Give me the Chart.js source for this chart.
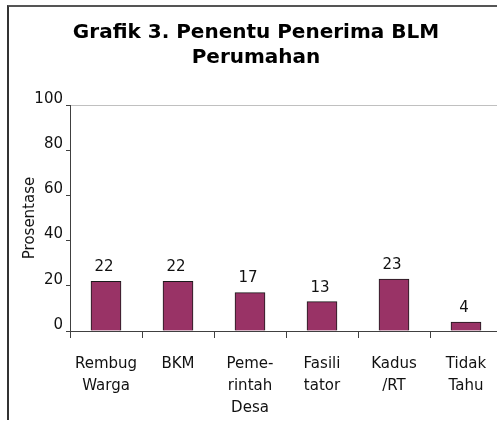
<!DOCTYPE html>
<html>
<head>
<meta charset="utf-8">
<script src="https://cdn.jsdelivr.net/npm/chart.js@4/dist/chart.umd.min.js"></script>
<style>
  html, body { margin: 0; padding: 0; overflow: hidden; background: #fff; width: 497px; height: 423px; }
  #wrap { position: relative; width: 497px; height: 423px; overflow: hidden; }
  #frame { position: absolute; left: 7px; top: 5px; width: 500px; height: 415px;
           border-top: 2px solid #555; border-left: 2px solid #333; box-sizing: border-box; }
  #c { position: absolute; left: 0; top: 0; }
</style>
</head>
<body>
<div id="wrap">
  <div id="frame"></div>
  <canvas id="c" width="504" height="423"></canvas>
</div>
<script>
const titleLines = ["Grafik 3. Penentu Penerima BLM", "Perumahan"];
const yAxisTitle = "Prosentase";
const categories = [
  ["Rembug", "Warga"],
  ["BKM"],
  ["Peme-", "rintah", "Desa"],
  ["Fasili", "tator"],
  ["Kadus", "/RT"],
  ["Tidak", "Tahu"]
];
const values = [22, 22, 17, 13, 23, 4];
const yMin = 0;
const yMax = 100;
const yStep = 20;

const FONT = "'DejaVu Sans', Verdana, sans-serif";

const valueLabels = {
  id: 'valueLabels',
  afterDatasetsDraw(chart) {
    const ctx = chart.ctx;
    const meta = chart.getDatasetMeta(0);
    ctx.save();
    ctx.font = "15px " + FONT;
    ctx.fillStyle = "#111";
    ctx.textAlign = "center";
    ctx.textBaseline = "middle";
    meta.data.forEach((el, i) => {
      ctx.fillText(String(values[i]), el.x - 2, el.y - 14);
    });
    ctx.restore();
  }
};

new Chart(document.getElementById('c'), {
  type: 'bar',
  data: {
    labels: categories,
    datasets: [{
      data: values,
      backgroundColor: '#993366',
      borderColor: '#1a1a1a',
      borderWidth: 1,
      barThickness: 30
    }]
  },
  options: {
    responsive: false,
    animation: false,
    devicePixelRatio: 1,
    layout: { padding: { left: 10, right: 2, top: 0, bottom: 0 } },
    plugins: {
      legend: { display: false },
      tooltip: { enabled: false },
      title: {
        display: true,
        text: titleLines,
        color: '#000',
        font: { family: FONT, size: 20, weight: 'bold', lineHeight: 1.25 },
        padding: { top: 20, bottom: 35 }
      }
    },
    scales: {
      x: {
        grid: {
          offset: true,
          drawOnChartArea: false,
          drawTicks: true,
          tickLength: 7,
          color: '#404040',
          tickColor: '#404040'
        },
        border: { display: true, color: '#404040', width: 1 },
        ticks: {
          autoSkip: false,
          maxRotation: 0,
          minRotation: 0,
          padding: 15,
          color: '#111',
          font: { family: FONT, size: 15, lineHeight: 1.4667 }
        },
        afterFit(scale) { scale.height = 92; }
      },
      y: {
        min: yMin,
        max: yMax,
        ticks: {
          stepSize: yStep,
          padding: 3,
          labelOffset: -6,
          color: '#111',
          font: { family: FONT, size: 15 }
        },
        grid: {
          drawTicks: true,
          tickLength: 4,
          color: (c) => (c.tick && c.tick.value === yMax) ? '#c0c0c0' : 'rgba(0,0,0,0)',
          tickColor: '#404040'
        },
        border: { display: true, color: '#404040', width: 1 },
        title: {
          display: true,
          text: yAxisTitle,
          color: '#111',
          font: { family: FONT, size: 15, lineHeight: 1.2 },
          padding: { top: 11, bottom: 0 }
        },
        afterFit(scale) { scale.width = 60; }
      }
    }
  },
  plugins: [valueLabels]
});
</script>
</body>
</html>
